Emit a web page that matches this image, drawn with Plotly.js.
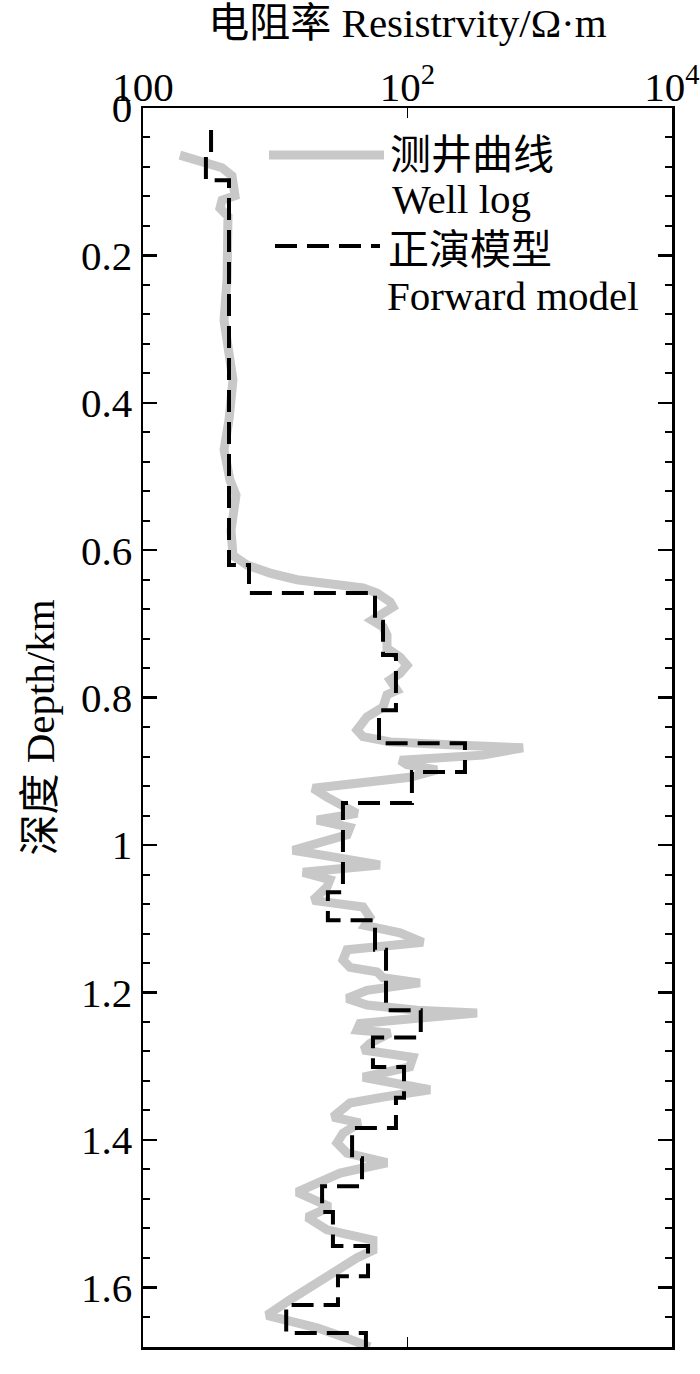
<!DOCTYPE html>
<html>
<head>
<meta charset="utf-8">
<script src="https://cdn.plot.ly/plotly-3.0.1.min.js"></script>
<style>html,body{margin:0;padding:0;background:#fff;}#chart{width:700px;height:1374px;}</style>
</head>
<body>
<div id="chart"></div>
<script>
// Well log (measured) : depth in km, resistivity in ohm-m
const wellDepth = [0.064,0.069,0.075,0.081,0.092,0.109,0.119,0.125,0.136,0.147,0.179,0.233,0.288,0.322,0.369,0.423,0.464,0.505,0.525,0.573,0.607,
  0.620,0.631,0.640,0.645,0.651,0.658,0.670,0.677,0.687,0.695,0.704,0.715,0.733,0.745,0.756,0.767,0.776,0.790,0.796,0.813,0.826,0.844,0.853,
  0.860,0.864,0.868,0.878,0.885,0.891,0.898,0.908,0.916,0.923,0.935,0.943,0.957,0.966,0.976,0.986,1.007,1.016,1.027,1.037,1.047,1.057,1.075,1.084,
  1.098,1.109,1.119,1.132,1.138,1.142,1.156,1.166,1.172,1.180,1.187,1.197,1.208,1.217,1.224,1.228,1.235,1.242,1.251,1.255,1.269,1.278,1.288,1.301,
  1.315,1.323,1.332,1.342,1.350,1.369,1.377,1.391,1.404,1.418,1.431,1.445,1.471,1.491,1.505,1.522,1.536,1.550,1.560,1.577,1.601,1.617,1.638,1.647,1.655,1.669,1.681];
const wellRes = [1.90,2.47,3.05,3.96,4.71,4.96,4.96,3.96,3.82,4.39,4.39,4.32,4.10,4.39,4.79,4.47,4.10,4.55,5.05,4.63,4.79,
  6.11,9.13,14.6,25.9,46.1,58.8,73.8,77.7,65.3,53.9,65.3,70.0,70.0,87.8,99.1,87.8,73.8,83.3,70.0,65.3,49.4,41.5,46.1,
  73.8,209,747,372,87.8,99.1,167,104,36.7,19.3,24.6,29.3,41.5,20.7,36.7,34.9,13.6,27.3,61.9,16.2,25.9,24.6,19.3,46.1,
  52.0,47.7,87.8,131,65.3,34.9,32.5,36.7,58.8,65.3,124,49.4,34.9,49.4,118,336,118,43.7,41.5,73.8,52.0,46.1,110,104,
  46.1,83.3,148,65.3,36.7,27.3,43.7,32.5,29.3,34.9,70.0,30.9,14.6,25.9,17.4,24.6,54.8,54.8,41.5,29.3,17.4,12.9,8.66,14.6,20.7,34.9,52.0];

// Forward model layers: top depth (km) and resistivity (ohm-m); last entry closes the final layer
const modelTop = [0.030,0.065,0.098,0.620,0.658,0.697,0.742,0.817,0.862,0.901,0.943,1.064,1.102,1.142,1.224,1.261,1.301,1.343,1.384,1.425,1.463,1.498,1.544,1.585,1.624,1.662,1.681];
const modelRes = [3.27,2.99,4.47,6.33,56.8,65.3,81.8,60.9,272,108,32.5,25.0,56.8,68.8,126,54.8,94.1,81.8,38.1,45.3,22.6,27.3,50.3,29.8,12.1,48.5,48.5];

const xTickVals = [1, 100, 10000];
const xTickText = ['100', '10<sup>2</sup>', '10<sup>4</sup>'];

const legendLabels = [['测井曲线', 'Well log'], ['正演模型', 'Forward model']];

const FONT = 'Liberation Serif, "Noto Sans CJK SC", serif';
const FS = 41;

const traces = [
  {x: wellRes, y: wellDepth, type: 'scatter', mode: 'lines', name: '测井曲线 Well log',
   line: {color: '#c8c8c8', width: 9}, showlegend: false},
  {x: modelRes, y: modelTop, type: 'scatter', mode: 'lines', name: '正演模型 Forward model',
   line: {color: '#000', width: 4, dash: '22px,10px', shape: 'vh'}, showlegend: false}
];

// paper coordinate helpers for legend placement
const L = 143, R = 672, T = 108, B = 1347;
const px = v => (v - L) / (R - L);
const py = v => 1 - (v - T) / (B - T);

const layout = {
  width: 700, height: 1374,
  margin: {l: L, r: 700 - R, t: T, b: 1374 - B},
  paper_bgcolor: '#fff', plot_bgcolor: '#fff',
  font: {family: FONT, size: FS, color: '#000'},
  xaxis: {
    type: 'log', range: [0, 4], side: 'top',
    tickvals: xTickVals, ticktext: xTickText,
    ticks: 'inside', ticklen: 10, tickwidth: 1.5, tickcolor: '#000',
    showline: true, linewidth: 2.5, linecolor: '#000', mirror: 'ticks',
    showgrid: false, zeroline: false,
    tickfont: {family: FONT, size: FS},
    ticklabeloverflow: 'allow',
    ticklabelstandoff: -12,
    title: {text: '电阻率 Resistrvity/Ω·m', font: {family: FONT, size: FS}, standoff: 16},
    automargin: false
  },
  yaxis: {
    range: [1.681, 0], dtick: 0.2, tick0: 0,
    ticks: 'inside', ticklen: 14, tickwidth: 2.5, tickcolor: '#000',
    minor: {dtick: 0.04, ticks: 'inside', ticklen: 7, tickwidth: 2, tickcolor: '#000'},
    showline: true, linewidth: 2.5, linecolor: '#000', mirror: 'ticks',
    showgrid: false, zeroline: false,
    tickfont: {family: FONT, size: FS},
    title: {text: '深度 Depth/km', font: {family: FONT, size: FS}, standoff: 14},
    automargin: false
  },
  shapes: [
    {type: 'line', xref: 'paper', yref: 'paper', x0: px(269), x1: px(384), y0: py(155), y1: py(155),
     line: {color: '#c8c8c8', width: 9}},
    {type: 'line', xref: 'paper', yref: 'paper', x0: px(275), x1: px(380), y0: py(246), y1: py(246),
     line: {color: '#000', width: 4, dash: '22px,10px'}}
  ],
  annotations: [
    {text: legendLabels[0][0], xref: 'paper', yref: 'paper', x: px(388), y: py(155), xanchor: 'left', yanchor: 'middle', showarrow: false, font: {family: FONT, size: FS}},
    {text: legendLabels[0][1], xref: 'paper', yref: 'paper', x: px(390), y: py(199), xanchor: 'left', yanchor: 'middle', showarrow: false, font: {family: FONT, size: FS}},
    {text: legendLabels[1][0], xref: 'paper', yref: 'paper', x: px(386), y: py(250), xanchor: 'left', yanchor: 'middle', showarrow: false, font: {family: FONT, size: FS}},
    {text: legendLabels[1][1], xref: 'paper', yref: 'paper', x: px(385), y: py(296), xanchor: 'left', yanchor: 'middle', showarrow: false, font: {family: FONT, size: FS}}
  ]
};

Plotly.newPlot('chart', traces, layout, {displayModeBar: false, staticPlot: true});
</script>
</body>
</html>
